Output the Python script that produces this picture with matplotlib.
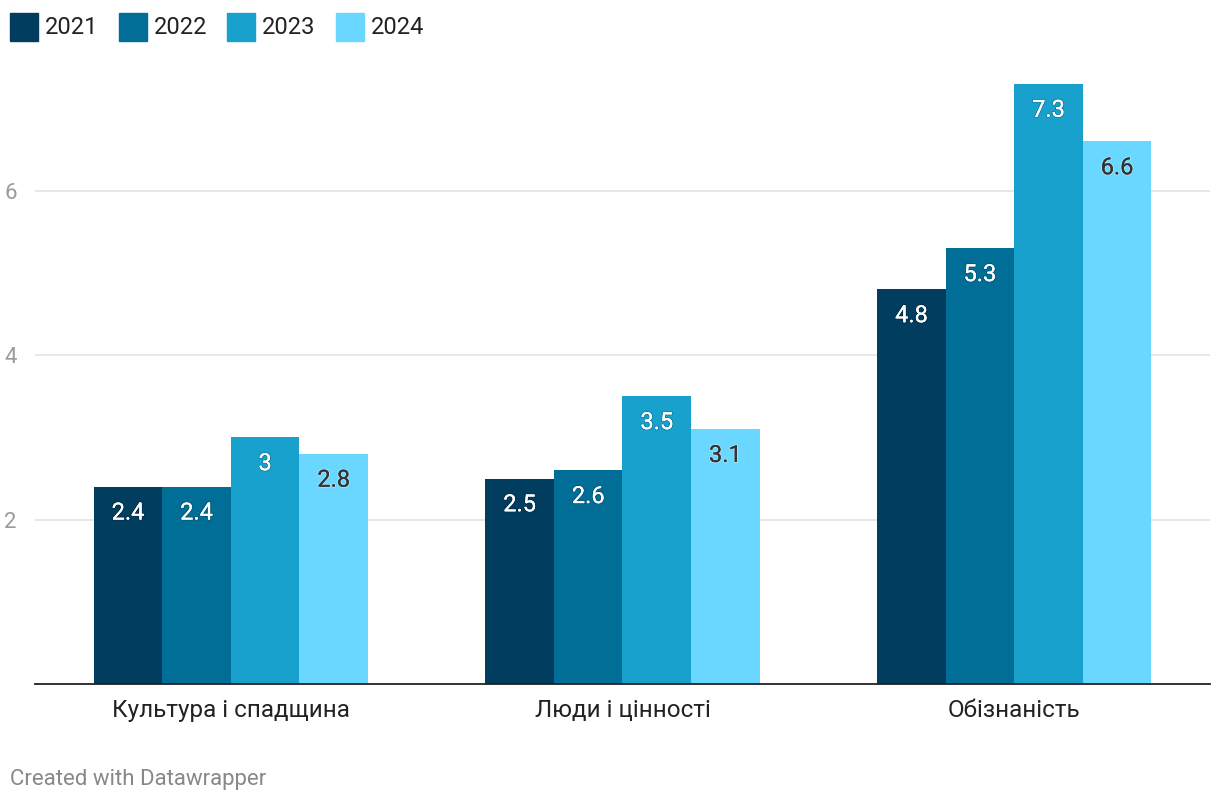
import matplotlib
matplotlib.use("Agg")
import matplotlib.pyplot as plt
import matplotlib.patheffects as pe
from matplotlib.patches import Rectangle
import numpy as np

plt.rcParams['font.family'] = ['Roboto', 'DejaVu Sans']

categories = ['Культура і спадщина', 'Люди і цінності', 'Обізнаність']
years = ['2021', '2022', '2023', '2024']
v2021 = [2.4, 2.5, 4.8]
v2022 = [2.4, 2.6, 5.3]
v2023 = [3.0, 3.5, 7.3]
v2024 = [2.8, 3.1, 6.6]
yticks = [2, 4, 6]
colors = ['#003d5f', '#006e97', '#18a1cd', '#69d7ff']
series = [v2021, v2022, v2023, v2024]

fig = plt.figure(figsize=(12.2, 8.06), dpi=100)
ax = fig.add_axes([35 / 1220, 1 - 684 / 806, 1175 / 1220, 616.5 / 806])

x = np.arange(len(categories))
w = 0.175
for i, (vals, c) in enumerate(zip(series, colors)):
    pos = x + (i - 1.5) * w
    ax.bar(pos, vals, width=w, color=c, zorder=3, linewidth=0)
    for p, v in zip(pos, vals):
        label = f'{v:g}'
        if i == 3:
            tc, sc = '#333333', (1, 1, 1, 0.35)
        else:
            tc, sc = 'white', (0, 0, 0, 0.2)
        ax.text(p, v - 0.32, label, ha='center', va='center', fontsize=17,
                color=tc, zorder=4,
                path_effects=[pe.withStroke(linewidth=1.5, foreground=sc), pe.Normal()])

ax.set_xlim(-0.5, 2.5)
ax.set_ylim(0, 7.5)
ax.set_yticks(yticks)
ax.set_yticklabels([str(t) for t in yticks], color='#9a9a9a', fontsize=16)
ax.set_xticks(x)
ax.set_xticklabels(categories, fontsize=17.5, color='#222222')
ax.tick_params(axis='y', length=0, pad=13)
ax.tick_params(axis='x', length=0, pad=11)
ax.grid(axis='y', color='#e3e3e3', linewidth=1.2, zorder=0)
for s in ['top', 'right', 'left']:
    ax.spines[s].set_visible(False)
ax.spines['bottom'].set_color('#222222')
ax.spines['bottom'].set_linewidth(1.3)
ax.spines['bottom'].set_zorder(5)

# legend
for i, (yr, c) in enumerate(zip(years, colors)):
    x0 = 10 + i * 108.5
    fig.patches.append(Rectangle((x0 / 1220, 1 - 41 / 806), 28 / 1220, 28 / 806,
                                 transform=fig.transFigure, color=c, figure=fig))
    fig.text((x0 + 35) / 1220, 1 - 27 / 806, yr, fontsize=17, color='#222222',
             va='center', ha='left')

fig.text(10 / 1220, 1 - 780 / 806, 'Created with Datawrapper', fontsize=16,
         color='#888888', va='center', ha='left')

fig.savefig('out.png', dpi=100)
